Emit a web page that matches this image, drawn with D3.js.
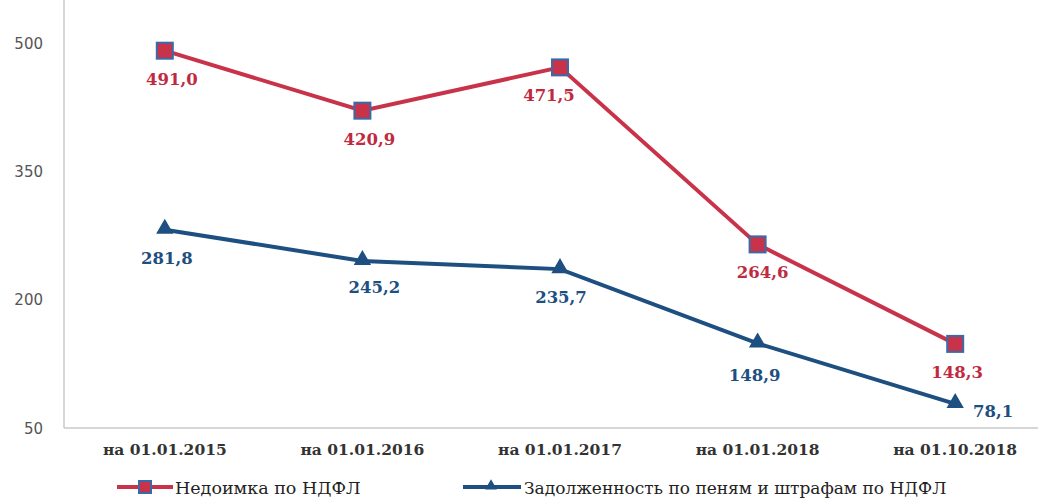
<!DOCTYPE html>
<html>
<head>
<meta charset="utf-8">
<script src="https://cdn.jsdelivr.net/npm/d3@7"></script>
<style>
body { margin:0; background:#fff; }
svg { display:block; }
</style>
</head>
<body>
<div id="chart"></div>
<script>
var categories = ["на 01.01.2015", "на 01.01.2016", "на 01.01.2017", "на 01.01.2018", "на 01.10.2018"];
var arrears = [491.0, 420.9, 471.5, 264.6, 148.3];
var penalties = [281.8, 245.2, 235.7, 148.9, 78.1];
var yTicks = [50, 200, 350, 500];
var seriesNames = ["Недоимка по НДФЛ", "Задолженность по пеням и штрафам по НДФЛ"];

var width = 1038, height = 500;
var red = "#c8334a", blue = "#1d4f80";
var SERIF = "'DejaVu Serif', serif";

var svg = d3.select("#chart").append("svg").attr("width", width).attr("height", height);

var x = d3.scaleBand().domain(categories).range([66, 1054]);
var y = d3.scaleLinear().domain([50, 500]).range([428, 43]);

function cx(d, i){ return x(categories[i]) + x.bandwidth()/2; }
function fmt(v){ return v.toFixed(1).replace(".", ","); }

// axes
svg.append("line").attr("x1", 64).attr("x2", 64).attr("y1", 0).attr("y2", 428)
    .attr("stroke", "#c8c8c8").attr("stroke-width", 1.5);
svg.append("line").attr("x1", 64).attr("x2", width).attr("y1", 428).attr("y2", 428)
    .attr("stroke", "#c8c8c8").attr("stroke-width", 1.5);

var yAxis = d3.axisLeft(y).tickValues(yTicks).tickSize(0).tickPadding(0);
svg.append("g").attr("transform", "translate(43,0)").call(yAxis)
    .call(function(g){ g.select(".domain").remove(); })
    .selectAll("text").style("font-family", "'DejaVu Sans', sans-serif")
    .style("font-size", "15px").attr("fill", "#555").attr("text-anchor", "end").attr("dy", "0.35em");

var xAxis = d3.axisBottom(x).tickSize(0).tickPadding(16);
svg.append("g").attr("transform", "translate(0,428)").call(xAxis)
    .call(function(g){ g.select(".domain").remove(); })
    .selectAll("text").style("font-family", SERIF)
    .style("font-size", "15.5px").style("font-weight", "bold").attr("fill", "#333");

var line = d3.line().x(cx).y(function(d){ return y(d); });

// red series
svg.append("path").datum(arrears).attr("d", line).attr("fill", "none")
    .attr("stroke", red).attr("stroke-width", 4);
svg.selectAll(".sq").data(arrears).enter().append("rect").attr("class", "sq")
    .attr("x", function(d, i){ return cx(d, i) - 8; }).attr("y", function(d){ return y(d) - 8; })
    .attr("width", 16).attr("height", 16).attr("fill", red)
    .attr("stroke", "#3a6aa8").attr("stroke-width", 2);

var redDx = [7, 7, -11, 5, 2];
svg.selectAll(".rl").data(arrears).enter().append("text").attr("class", "rl")
    .attr("x", function(d, i){ return cx(d, i) + redDx[i]; })
    .attr("y", function(d){ return y(d) + 34; })
    .attr("text-anchor", "middle")
    .style("font-family", SERIF)
    .style("font-size", "16.5px").style("font-weight", "bold").attr("fill", "#c02a40")
    .text(fmt);

// blue series
svg.append("path").datum(penalties).attr("d", line).attr("fill", "none")
    .attr("stroke", blue).attr("stroke-width", 4);
var tri = d3.symbol().type(d3.symbolTriangle).size(130);
svg.selectAll(".tr").data(penalties).enter().append("path").attr("class", "tr")
    .attr("d", tri)
    .attr("transform", function(d, i){ return "translate(" + cx(d, i) + "," + (y(d) - 1) + ")"; })
    .attr("fill", blue);

var blueDx = [2, 12, 1, -3, 38];
var blueDy = [34, 32, 34, 38, 13];
svg.selectAll(".bl").data(penalties).enter().append("text").attr("class", "bl")
    .attr("x", function(d, i){ return cx(d, i) + blueDx[i]; })
    .attr("y", function(d, i){ return y(d) + blueDy[i]; })
    .attr("text-anchor", "middle")
    .style("font-family", SERIF)
    .style("font-size", "16.5px").style("font-weight", "bold").attr("fill", blue)
    .text(fmt);

// legend
var leg1 = svg.append("g").attr("transform", "translate(117,487)");
leg1.append("line").attr("x1", 0).attr("x2", 56).attr("stroke", red).attr("stroke-width", 4);
leg1.append("rect").attr("x", 22).attr("y", -6).attr("width", 12).attr("height", 12)
    .attr("fill", red).attr("stroke", "#3a6aa8").attr("stroke-width", 2);
leg1.append("text").attr("x", 58).attr("y", 7).style("font-family", SERIF)
    .style("font-size", "17.5px").attr("fill", "#222").text(seriesNames[0]);

var leg2 = svg.append("g").attr("transform", "translate(463,487)");
leg2.append("line").attr("x1", 0).attr("x2", 58).attr("stroke", blue).attr("stroke-width", 4);
leg2.append("path").attr("d", d3.symbol().type(d3.symbolTriangle).size(60))
    .attr("transform", "translate(28,-1)").attr("fill", blue);
leg2.append("text").attr("x", 61).attr("y", 7).style("font-family", SERIF)
    .style("font-size", "17px").attr("fill", "#222").text(seriesNames[1]);
</script>
</body>
</html>
